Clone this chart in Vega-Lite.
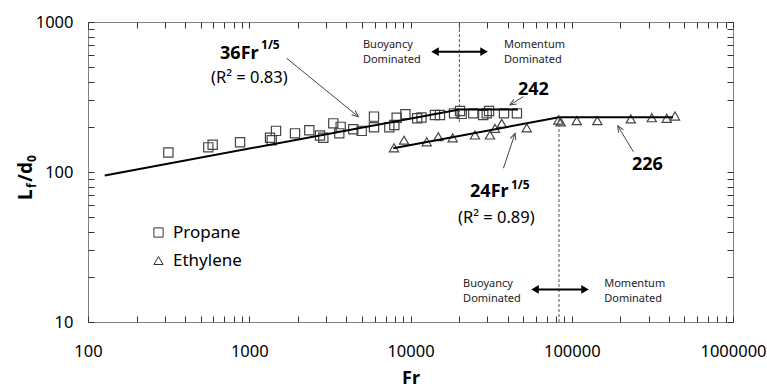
{
  "$schema": "https://vega.github.io/schema/vega-lite/v6.json",
  "width": 645,
  "height": 300,
  "autosize": {"type": "none"},
  "padding": {"left": 88, "top": 22, "right": 34, "bottom": 65},
  "background": "#ffffff",
  "config": {
    "view": {"stroke": "#808080", "strokeWidth": 1},
    "font": "Noto Sans",
    "axis": {"grid": false, "domain": false, "tickColor": "#333333", "tickWidth": 1, "ticks": true, "tickSize": 6, "offset": -6, "labelFont": "Noto Sans", "labelFontSize": 16.5, "labelColor": "#000000"}
  },
  "datasets": {
    "points": [
      {"fuel": "Propane", "Fr": 315, "L": 135},
      {"fuel": "Propane", "Fr": 557, "L": 146},
      {"fuel": "Propane", "Fr": 593, "L": 152},
      {"fuel": "Propane", "Fr": 877, "L": 158},
      {"fuel": "Propane", "Fr": 1345, "L": 169},
      {"fuel": "Propane", "Fr": 1378, "L": 163},
      {"fuel": "Propane", "Fr": 1466, "L": 188},
      {"fuel": "Propane", "Fr": 1922, "L": 181},
      {"fuel": "Propane", "Fr": 2357, "L": 190},
      {"fuel": "Propane", "Fr": 2746, "L": 175},
      {"fuel": "Propane", "Fr": 2879, "L": 169},
      {"fuel": "Propane", "Fr": 3320, "L": 211},
      {"fuel": "Propane", "Fr": 3690, "L": 200},
      {"fuel": "Propane", "Fr": 3616, "L": 181},
      {"fuel": "Propane", "Fr": 4418, "L": 193},
      {"fuel": "Propane", "Fr": 4980, "L": 188},
      {"fuel": "Propane", "Fr": 5937, "L": 234},
      {"fuel": "Propane", "Fr": 5937, "L": 199},
      {"fuel": "Propane", "Fr": 7390, "L": 199},
      {"fuel": "Propane", "Fr": 7940, "L": 206},
      {"fuel": "Propane", "Fr": 8210, "L": 230},
      {"fuel": "Propane", "Fr": 9300, "L": 243},
      {"fuel": "Propane", "Fr": 11000, "L": 228},
      {"fuel": "Propane", "Fr": 11700, "L": 231},
      {"fuel": "Propane", "Fr": 14180, "L": 240},
      {"fuel": "Propane", "Fr": 15230, "L": 240},
      {"fuel": "Propane", "Fr": 18620, "L": 246},
      {"fuel": "Propane", "Fr": 20280, "L": 255},
      {"fuel": "Propane", "Fr": 20770, "L": 244},
      {"fuel": "Propane", "Fr": 24500, "L": 246},
      {"fuel": "Propane", "Fr": 28250, "L": 240},
      {"fuel": "Propane", "Fr": 29700, "L": 246},
      {"fuel": "Propane", "Fr": 30700, "L": 255},
      {"fuel": "Propane", "Fr": 38000, "L": 246},
      {"fuel": "Propane", "Fr": 45700, "L": 246},
      {"fuel": "Ethylene", "Fr": 7900, "L": 145},
      {"fuel": "Ethylene", "Fr": 9120, "L": 163},
      {"fuel": "Ethylene", "Fr": 12600, "L": 159},
      {"fuel": "Ethylene", "Fr": 14870, "L": 172},
      {"fuel": "Ethylene", "Fr": 18270, "L": 169},
      {"fuel": "Ethylene", "Fr": 25100, "L": 176.5},
      {"fuel": "Ethylene", "Fr": 31100, "L": 176.5},
      {"fuel": "Ethylene", "Fr": 33400, "L": 195.5},
      {"fuel": "Ethylene", "Fr": 36800, "L": 211},
      {"fuel": "Ethylene", "Fr": 52600, "L": 197},
      {"fuel": "Ethylene", "Fr": 82600, "L": 222},
      {"fuel": "Ethylene", "Fr": 85400, "L": 216},
      {"fuel": "Ethylene", "Fr": 107400, "L": 220},
      {"fuel": "Ethylene", "Fr": 144200, "L": 220},
      {"fuel": "Ethylene", "Fr": 232300, "L": 226},
      {"fuel": "Ethylene", "Fr": 313500, "L": 230},
      {"fuel": "Ethylene", "Fr": 388200, "L": 228},
      {"fuel": "Ethylene", "Fr": 436600, "L": 236}
    ],
    "fits": [
      {"series": "Propane fit", "Fr": 127, "L": 94.8},
      {"series": "Propane fit", "Fr": 20100, "L": 261},
      {"series": "Propane fit", "Fr": 46400, "L": 261},
      {"series": "Ethylene fit", "Fr": 7820, "L": 144.1},
      {"series": "Ethylene fit", "Fr": 83400, "L": 231.5},
      {"series": "Ethylene fit", "Fr": 424600, "L": 231.5}
    ],
    "dividers": [
      {"Fr": 20100, "L": 215, "L2": 1000},
      {"Fr": 83400, "L": 10, "L2": 240}
    ],
    "pointers": [
      {"Fr": 1706, "L": 573, "Fr2": 4745, "L2": 234},
      {"Fr": 50100, "L": 318, "Fr2": 41400, "L2": 280},
      {"Fr": 37700, "L": 106, "Fr2": 44500, "L2": 181},
      {"Fr": 241000, "L": 136.5, "Fr2": 192800, "L2": 203}
    ],
    "regimeArrows": [
      {"Fr": 14200, "Fr2": 28600, "L": 634},
      {"Fr": 59200, "Fr2": 120800, "L": 16.5}
    ],
    "regimeLeft": [{"Fr": 14200, "L": 634}, {"Fr": 59200, "L": 16.5}],
    "regimeRight": [{"Fr": 28600, "L": 634}, {"Fr": 120800, "L": 16.5}],
    "bigText": [
      {"t": "36Fr", "Fr": 659, "L": 567},
      {"t": "24Fr", "Fr": 23400, "L": 68.1},
      {"t": "242", "Fr": 46400, "L": 326},
      {"t": "226", "Fr": 236400, "L": 103}
    ],
    "supText": [
      {"t": "1/5", "Fr": 1183, "L": 661},
      {"t": "1/5", "Fr": 42000, "L": 77}
    ],
    "rText": [
      {"t": "(R² = 0.83)", "Fr": 579, "L": 392},
      {"t": "(R² = 0.89)", "Fr": 19700, "L": 45.7}
    ],
    "regimeText": [
      {"t": "Buoyancy", "Fr": 5070, "L": 671},
      {"t": "Dominated", "Fr": 5070, "L": 533},
      {"t": "Momentum", "Fr": 38000, "L": 671},
      {"t": "Dominated", "Fr": 38000, "L": 533},
      {"t": "Buoyancy", "Fr": 21200, "L": 17.0},
      {"t": "Dominated", "Fr": 21200, "L": 13.6},
      {"t": "Momentum", "Fr": 159000, "L": 17.0},
      {"t": "Dominated", "Fr": 159000, "L": 13.6}
    ],
    "yTitleMain": [
      {"t": "L", "Fr": 45, "L": 65.1},
      {"t": "/d", "Fr": 45, "L": 85.8}
    ],
    "yTitleSub": [
      {"t": "f", "Fr": 47.6, "L": 78.2},
      {"t": "0", "Fr": 47.6, "L": 116.6}
    ]
  },
  "encoding": {
    "x": {"field": "Fr", "type": "quantitative", "scale": {"type": "log", "domain": [100, 1000000], "nice": false}, "axis": null},
    "y": {"field": "L", "type": "quantitative", "scale": {"type": "log", "domain": [10, 1000], "nice": false}, "axis": null}
  },
  "resolve": {"axis": {"x": "independent", "y": "independent"}},
  "layer": [
    {
      "data": {"name": "points"},
      "mark": {"type": "point", "filled": false, "size": 85, "strokeWidth": 1.2, "color": "#444444", "opacity": 1},
      "encoding": {
        "x": {"field": "Fr", "type": "quantitative", "scale": {"type": "log", "domain": [100, 1000000], "nice": false},
          "axis": {"orient": "bottom", "values": [100,200,300,400,500,600,700,800,900,1000,2000,3000,4000,5000,6000,7000,8000,9000,10000,20000,30000,40000,50000,60000,70000,80000,90000,100000,200000,300000,400000,500000,600000,700000,800000,900000,1000000],
            "format": "d", "labelExpr": "abs(log(datum.value)/LN10 - round(log(datum.value)/LN10)) < 0.001 ? datum.label : ''",
            "labelFlush": false, "labelOverlap": false, "labelPadding": 21,
            "title": "Fr", "titleFont": "Noto Sans", "titleFontSize": 18, "titleFontWeight": "bold", "titleColor": "#000000", "titleY": 67, "titleBaseline": "alphabetic"}},
        "y": {"field": "L", "type": "quantitative", "scale": {"type": "log", "domain": [10, 1000], "nice": false},
          "axis": {"orient": "left", "values": [10,20,30,40,50,60,70,80,90,100,200,300,400,500,600,700,800,900,1000],
            "format": "d", "labelExpr": "abs(log(datum.value)/LN10 - round(log(datum.value)/LN10)) < 0.001 ? datum.label : ''",
            "labelFlush": false, "labelOverlap": false, "labelPadding": 15,
            "title": null}},
        "shape": {"field": "fuel", "type": "nominal", "scale": {"domain": ["Propane", "Ethylene"], "range": ["square", "triangle-up"]},
          "legend": {"orient": "none", "legendX": 62, "legendY": 202, "title": null, "padding": 0, "labelFont": "Noto Sans", "labelFontSize": 17, "labelColor": "#000000", "symbolSize": 85, "symbolStrokeColor": "#333333", "symbolStrokeWidth": 1, "symbolFillColor": "transparent", "rowPadding": 10, "labelOffset": 6}}
      }
    },
    {
      "data": {"name": "fits"},
      "mark": {"type": "line", "color": "#000000", "strokeWidth": 2},
      "encoding": {
        "x": {"field": "Fr", "type": "quantitative", "scale": {"type": "log", "domain": [100, 1000000], "nice": false},
          "axis": {"orient": "top", "values": [100,200,300,400,500,600,700,800,900,1000,2000,3000,4000,5000,6000,7000,8000,9000,10000,20000,30000,40000,50000,60000,70000,80000,90000,100000,200000,300000,400000,500000,600000,700000,800000,900000,1000000],
            "labels": false, "title": null}},
        "y": {"field": "L", "type": "quantitative", "scale": {"type": "log", "domain": [10, 1000], "nice": false},
          "axis": {"orient": "right", "values": [10,20,30,40,50,60,70,80,90,100,200,300,400,500,600,700,800,900,1000],
            "labels": false, "title": null}},
        "detail": {"field": "series"}
      }
    },
    {
      "data": {"name": "dividers"},
      "mark": {"type": "rule", "color": "#555555", "strokeWidth": 1, "strokeDash": [3, 2]},
      "encoding": {"y2": {"field": "L2"}}
    },
    {
      "data": {"name": "pointers"},
      "mark": {"type": "rule", "color": "#444444", "strokeWidth": 1},
      "encoding": {"x2": {"field": "Fr2"}, "y2": {"field": "L2"}}
    },
    {
      "data": {"values": [{"Fr": 4745, "L": 234}]},
      "mark": {"type": "point", "shape": "M-0.45,1L0,0L0.45,1", "size": 160, "filled": false, "color": "#444444", "strokeWidth": 1, "angle": 129, "opacity": 1}
    },
    {
      "data": {"values": [{"Fr": 41400, "L": 280}]},
      "mark": {"type": "point", "shape": "M-0.45,1L0,0L0.45,1", "size": 160, "filled": false, "color": "#444444", "strokeWidth": 1, "angle": 238, "opacity": 1}
    },
    {
      "data": {"values": [{"Fr": 44500, "L": 181}]},
      "mark": {"type": "point", "shape": "M-0.45,1L0,0L0.45,1", "size": 160, "filled": false, "color": "#444444", "strokeWidth": 1, "angle": 18.5, "opacity": 1}
    },
    {
      "data": {"values": [{"Fr": 192800, "L": 203}]},
      "mark": {"type": "point", "shape": "M-0.45,1L0,0L0.45,1", "size": 160, "filled": false, "color": "#444444", "strokeWidth": 1, "angle": 328.7, "opacity": 1}
    },
    {
      "data": {"name": "regimeArrows"},
      "mark": {"type": "rule", "color": "#000000", "strokeWidth": 2},
      "encoding": {"x2": {"field": "Fr2"}}
    },
    {
      "data": {"name": "regimeLeft"},
      "mark": {"type": "point", "shape": "triangle-left", "size": 75, "filled": true, "color": "#000000", "opacity": 1}
    },
    {
      "data": {"name": "regimeRight"},
      "mark": {"type": "point", "shape": "triangle-right", "size": 75, "filled": true, "color": "#000000", "opacity": 1}
    },
    {
      "data": {"name": "bigText"},
      "mark": {"type": "text", "align": "left", "baseline": "alphabetic", "font": "Noto Sans", "fontSize": 18, "fontWeight": "bold", "color": "#000000"},
      "encoding": {"text": {"field": "t"}}
    },
    {
      "data": {"name": "supText"},
      "mark": {"type": "text", "align": "left", "baseline": "alphabetic", "font": "Noto Sans", "fontSize": 12, "fontWeight": "bold", "color": "#000000"},
      "encoding": {"text": {"field": "t"}}
    },
    {
      "data": {"name": "rText"},
      "mark": {"type": "text", "align": "left", "baseline": "alphabetic", "font": "Noto Sans", "fontSize": 16.5, "color": "#000000"},
      "encoding": {"text": {"field": "t"}}
    },
    {
      "data": {"name": "regimeText"},
      "mark": {"type": "text", "align": "left", "baseline": "alphabetic", "font": "Noto Sans", "fontSize": 11, "color": "#222222"},
      "encoding": {"text": {"field": "t"}}
    },
    {
      "data": {"name": "yTitleMain"},
      "mark": {"type": "text", "align": "left", "baseline": "alphabetic", "angle": 270, "font": "Noto Sans", "fontSize": 19, "fontWeight": "bold", "color": "#000000"},
      "encoding": {"text": {"field": "t"}}
    },
    {
      "data": {"name": "yTitleSub"},
      "mark": {"type": "text", "align": "left", "baseline": "alphabetic", "angle": 270, "font": "Noto Sans", "fontSize": 12, "fontWeight": "bold", "color": "#000000"},
      "encoding": {"text": {"field": "t"}}
    }
  ]
}
